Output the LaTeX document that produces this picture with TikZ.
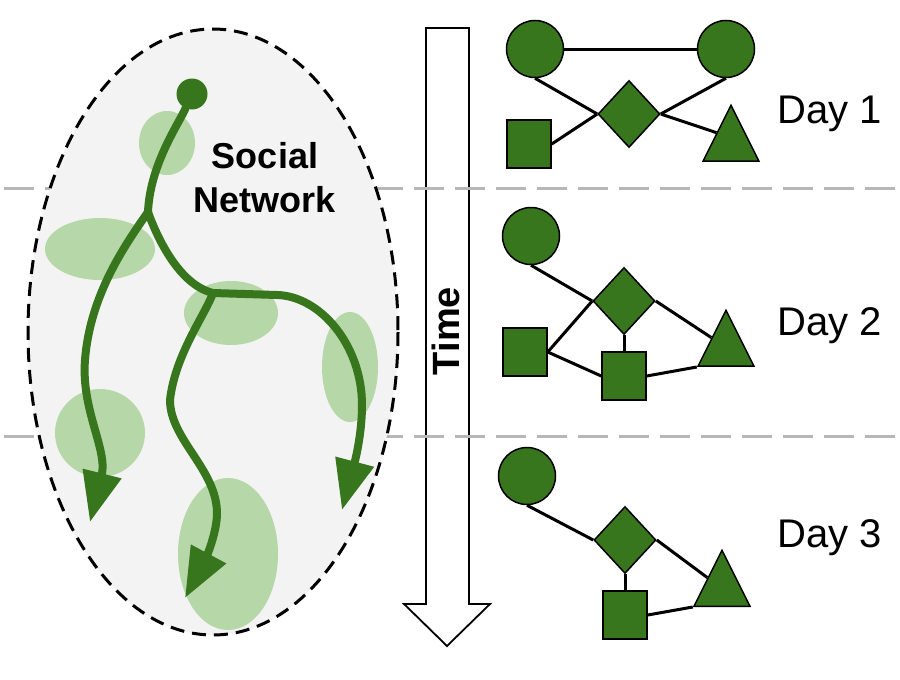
\documentclass[tikz,border=0pt]{standalone}
\usepackage{fontspec}
\setmainfont{Liberation Sans}
\usetikzlibrary{shapes.geometric, arrows.meta}

\definecolor{verde}{HTML}{38761D}
\definecolor{verdechiaro}{HTML}{B6D7A8}
\definecolor{grigio}{HTML}{B7B7B7}
\definecolor{fondo}{HTML}{F3F3F3}

\tikzset{
  person/.style={circle, draw, fill=verde, line width=1.5pt, minimum size=57pt, inner sep=0pt},
  hub/.style={diamond, draw, fill=verde, line width=1.5pt, minimum width=62pt, minimum height=67pt, inner sep=0pt},
  sq/.style={rectangle, draw, fill=verde, line width=1.5pt, minimum width=44pt, minimum height=48pt, inner sep=0pt},
  tri/.style={isosceles triangle, isosceles triangle stretches, shape border rotate=90, draw, fill=verde, line width=1.5pt, minimum width=56pt, minimum height=56pt, inner sep=0pt, anchor=south},
  link/.style={line width=3pt},
  blob/.style={fill=verdechiaro},
  branch/.style={draw=verde, line width=8pt, line cap=round},
  spread/.style={branch, -{Triangle[length=50pt,width=38pt]}},
  day/.style={font=\fontsize{40}{48}\selectfont, anchor=base west, inner sep=0pt},
}

\begin{document}
\begin{tikzpicture}[x=1pt, y=-1pt]
    \useasboundingbox (0,0) rectangle (900,680);
    \fill[white] (0,0) rectangle (900,680);

    % freccia del tempo
    \draw[line width=1.8pt, fill=white] (426,28) -- (469,28) -- (469,604) -- (490,604) -- (447,646) -- (404,604) -- (426,604) -- cycle;
    \node[rotate=90, font=\bfseries\fontsize{38}{44}\selectfont] (time) at (446,331) {Time};

    % separatori
    \draw[grigio, line width=3pt, dash pattern=on 30pt off 11pt, dash phase=-4pt] (0,188) -- (900,188);
    \draw[grigio, line width=3pt, dash pattern=on 30pt off 11pt, dash phase=-4pt] (0,436) -- (900,436);

    % rete sociale
    \draw[fill=fondo, line width=3pt, dash pattern=on 14pt off 8pt] (213,332) ellipse [x radius=185, y radius=303];
    \fill[blob] (167,143) ellipse [x radius=28, y radius=32];
    \fill[blob] (100,249) ellipse [x radius=55, y radius=31];
    \fill[blob] (231,313) ellipse [x radius=47, y radius=32];
    \fill[blob] (350,367) ellipse [x radius=28, y radius=55];
    \fill[blob] (100,433) ellipse [x radius=45, y radius=44];
    \fill[blob] (228,554) ellipse [x radius=50, y radius=76];
    \node[font=\bfseries\fontsize{36}{44}\selectfont, align=center] (sn) at (265,178) {Social\\Network};

    % diffusione
    \node[circle, fill=verde, minimum size=31pt, inner sep=0pt] (seed) at (192,94) {};
    \coordinate (fork1) at (148,212);
    \coordinate (fork2) at (213,293);
    \coordinate (tipA) at (90,522);
    \coordinate (tipB) at (342,510);
    \coordinate (tipC) at (185,598);
    \draw[branch] (seed) .. controls (178,125) and (150,165) .. (fork1);
    \draw[spread] (fork1) .. controls (125,245) and (90,295) .. (85,360) .. controls (81,410) and (108,450) .. (tipA);
    \draw[spread] (fork1) .. controls (158,240) and (180,285) .. (fork2) -- (277,295) .. controls (320,296) and (362,345) .. (362,405) .. controls (362,440) and (352,472) .. (tipB);
    \draw[spread] (fork2) .. controls (205,315) and (175,355) .. (170,400) .. controls (170,440) and (218,470) .. (217,515) .. controls (216,540) and (200,570) .. (tipC);

    % giorno 1
    \node[person] (a1) at (535,49) {};
    \node[person] (b1) at (726,49) {};
    \node[hub] (h1) at (629,114) {};
    \node[sq] (s1) at (529,144) {};
    \node[tri] (t1) at (731,162) {};
    \draw[link] (a1) -- (b1);
    \draw[link] (a1.south) -- (h1.west);
    \draw[link] (b1.south) -- (h1.east);
    \draw[link] (s1.east) -- (h1.west);
    \draw[link] (h1.east) -- (t1.left side);
    \node[day] (d1) at (777,123) {Day 1};

    % giorno 2
    \node[person] (a2) at (531,236) {};
    \node[hub] (h2) at (624,301) {};
    \node[sq] (s2) at (525,352) {};
    \node[sq] (m2) at (624,376) {};
    \node[tri] (t2) at (726,367) {};
    \draw[link] (a2.south) -- (h2.west);
    \draw[link] (s2.east) -- (h2.west);
    \draw[link] (s2.east) -- (m2.west);
    \draw[link] (h2.south) -- (m2.north);
    \draw[link] (h2.east) -- (t2.left side);
    \draw[link] (m2.east) -- (t2.left corner);
    \node[day] (d2) at (777,335) {Day 2};

    % giorno 3
    \node[person] (a3) at (527,476) {};
    \node[hub] (h3) at (625,540) {};
    \node[sq] (m3) at (625,615) {};
    \node[tri] (t3) at (722,607) {};
    \draw[link] (a3.south) -- (h3.west);
    \draw[link] (h3.south) -- (m3.north);
    \draw[link] (h3.east) -- (t3.left side);
    \draw[link] (m3.east) -- (t3.left corner);
    \node[day] (d3) at (777,547) {Day 3};
\end{tikzpicture}
\end{document}
